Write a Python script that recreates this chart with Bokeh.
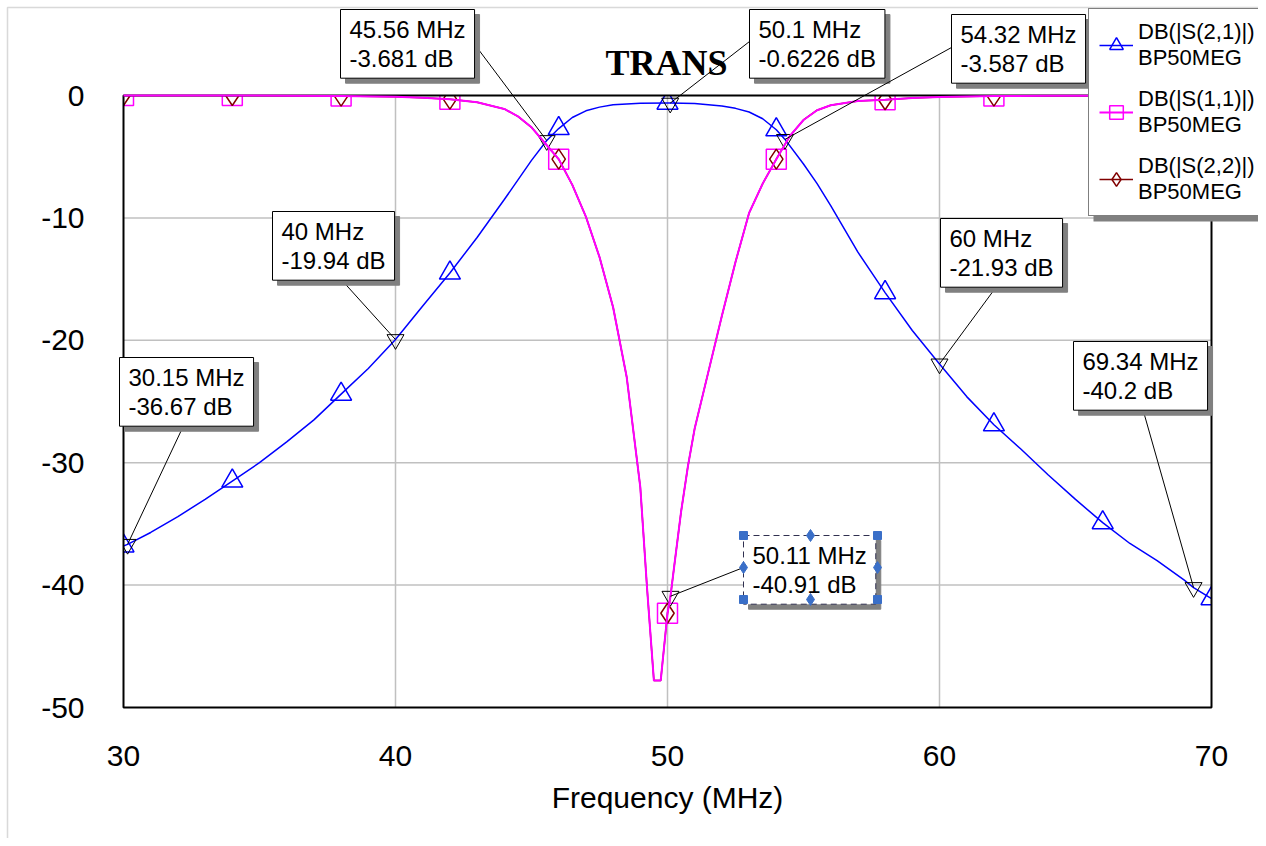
import numpy as np
from bokeh.plotting import figure
from bokeh.models import (Range1d, FixedTicker, Label, Arrow, BoxAnnotation, LinearAxis,
                          Legend, LegendItem, ColumnDataSource)
from bokeh.embed import file_html
from bokeh.resources import INLINE

# ---------------- data ----------------
freq_s21 = [30, 30.15, 31, 32, 33, 34, 35, 36, 37, 38, 39, 40, 41, 42, 43, 44, 45,
            45.56, 46, 46.5, 47, 47.5, 48, 49, 50, 50.1, 51, 52, 52.5, 53, 53.5, 54,
            54.32, 55, 55.5, 56, 57, 58, 59, 60, 61, 62, 63, 64, 65, 66, 67, 68, 69,
            69.34, 70]
s21_db = [-36.8, -36.67, -35.7, -34.4, -33.0, -31.5, -30.0, -28.3, -26.5, -24.4,
          -22.3, -19.94, -17.2, -14.5, -11.6, -8.5, -5.3, -3.681, -2.7, -1.8, -1.25,
          -0.95, -0.75, -0.64, -0.62, -0.6226, -0.66, -0.85, -1.05, -1.35, -1.9, -2.8,
          -3.587, -5.6, -7.2, -9.0, -12.8, -16.1, -19.2, -21.93, -24.6, -26.9, -28.9,
          -31.0, -33.0, -34.9, -36.6, -38.0, -39.6, -40.2, -41.1]

freq_s11 = [30, 32, 34, 36, 38, 40, 41, 42, 43, 44, 44.5, 45, 45.5, 46, 46.5, 47,
            47.5, 48, 48.5, 49, 49.25, 49.5, 49.75, 50, 50.11, 50.25, 50.5, 50.75, 51,
            51.5, 52, 52.5, 53, 53.5, 54, 54.5, 55, 55.5, 56, 57, 58, 59, 60, 62, 64,
            66, 68, 70]
s11_db = [0.0, 0.0, 0.0, -0.02, -0.05, -0.1, -0.18, -0.3, -0.55, -1.1, -1.7, -2.6,
          -3.9, -5.2, -7.3, -9.9, -13.2, -17.3, -23.0, -32.0, -40.3, -47.8, -47.8,
          -42.3, -40.91, -38.4, -34.0, -30.3, -27.2, -22.6, -18.0, -13.6, -9.6, -7.2,
          -5.2, -3.3, -2.0, -1.2, -0.8, -0.45, -0.35, -0.2, -0.12, -0.05, -0.03,
          -0.02, -0.01, 0.0]
# S22 reads identical to S11 (symmetric filter)
freq_s22 = list(freq_s11)
s22_db = list(s11_db)

symbol_freq = [30, 34, 38, 42, 46, 50, 54, 58, 62, 66, 70]

marker_freq = [30.15, 40, 45.56, 50.1, 54.32, 60, 69.34, 50.11]
marker_db = [-36.67, -19.94, -3.681, -0.6226, -3.587, -21.93, -40.2, -40.91]

x_ticks = [30, 40, 50, 60, 70]
y_ticks = [-50, -40, -30, -20, -10, 0]

legend_labels = ["DB(|S(2,1)|)\nBP50MEG", "DB(|S(1,1)|)\nBP50MEG", "DB(|S(2,2)|)\nBP50MEG"]

# ---------------- layout (canvas pixels) ----------------
W, H = 1258, 838
PX_L, PX_R, PX_T, PX_B = 123, 1211, 95, 707     # plot area
X0, X1, Y0, Y1 = 30, 70, -50, 0
SX = (PX_R - PX_L) / (X1 - X0)
SY = (PX_B - PX_T) / (Y1 - Y0)


def fx(px):
    return X0 + (px - PX_L) / SX


def fy(py):
    return Y1 - (py - PX_T) / SY


# callout boxes: top-left corner and leader start (canvas px)
box_tl = [(119, 357), (272, 211), (340, 9), (749, 9), (951, 14), (940, 218), (1073, 341), (743, 535)]
lead_start = [(185, 421), (338, 276), (475, 45), (749, 41), (951, 47), (999, 282), (1141, 404), (743, 567)]
BOX_W, BOX_H = 134, 64

FONT = "Liberation Sans"
BLUE, MAG, DRED, SHADOW = "#0000ff", "#ff00ff", "#800000", "#808080"

xr = Range1d(fx(0), fx(W))
yr = Range1d(fy(H), fy(0))
p = figure(width=W, height=H, x_range=xr, y_range=yr,
           output_backend="svg", toolbar_location=None,
           x_axis_location=None, y_axis_location=None,
           min_border=0, min_border_left=0, min_border_right=0,
           min_border_top=0, min_border_bottom=0)
p.background_fill_color = "white"
p.border_fill_color = "white"
p.outline_line_color = None
p.grid.visible = False

xaxis = LinearAxis(fixed_location=Y0, bounds=(X0, X1))
yaxis = LinearAxis(fixed_location=X0, bounds=(Y0, Y1))
p.add_layout(xaxis, "below")
p.add_layout(yaxis, "left")
for ax, ticks in ((xaxis, x_ticks), (yaxis, y_ticks)):
    ax.ticker = FixedTicker(ticks=ticks)
    ax.major_label_overrides = {t: str(t) for t in ticks}
    ax.axis_line_color = None
    ax.major_tick_line_color = None
    ax.minor_tick_line_color = None
    ax.major_label_text_font = FONT
    ax.major_label_text_font_size = "30px"
    ax.major_label_text_color = "black"
yaxis.major_label_standoff = 33
xaxis.major_label_standoff = 32
xaxis.axis_label = "Frequency (MHz)"
xaxis.axis_label_text_font = FONT
xaxis.axis_label_text_font_size = "30px"
xaxis.axis_label_text_font_style = "normal"
xaxis.axis_label_text_color = "black"
xaxis.axis_label_standoff = 12

# grid lines inside the plot area
inner_x = [t for t in x_ticks if X0 < t < X1]
inner_y = [t for t in y_ticks if Y0 < t < Y1]
p.segment(x0=inner_x, y0=[Y0] * len(inner_x), x1=inner_x, y1=[Y1] * len(inner_x),
          line_color="#c0c0c0", line_width=1.5)
p.segment(x0=[X0] * len(inner_y), y0=inner_y, x1=[X1] * len(inner_y), y1=inner_y,
          line_color="#c0c0c0", line_width=1.5)

src21 = ColumnDataSource(dict(f=freq_s21, db=s21_db))
src11 = ColumnDataSource(dict(f=freq_s11, db=s11_db))
src22 = ColumnDataSource(dict(f=freq_s22, db=s22_db))


def symbols(freqs, dbs):
    idx = [freqs.index(f) for f in symbol_freq]
    return ColumnDataSource(dict(f=[freqs[i] for i in idx], db=[dbs[i] for i in idx]))


l21 = p.line("f", "db", source=src21, line_color=BLUE, line_width=1.5)
l22 = p.line("f", "db", source=src22, line_color=DRED, line_width=1.5)
m11 = p.scatter("f", "db", source=symbols(freq_s11, s11_db), marker="square", size=20,
                fill_color=None, line_color=MAG, line_width=1.5)
m22 = p.scatter("f", "db", source=symbols(freq_s22, s22_db), marker="diamond",
                size=20, fill_color=None, line_color=DRED, line_width=1.5)
m21 = p.scatter("f", "db", source=symbols(freq_s21, s21_db), marker="triangle", size=21,
                fill_color=None, line_color=BLUE, line_width=1.5)
# marker glyphs (inverted triangles)
p.scatter(marker_freq, marker_db, marker="inverted_triangle", size=17,
          fill_color=None, line_color="black", line_width=1)

# white masks: clip the traces to the plot area
p.quad(left=[xr.start, xr.start, X1], right=[xr.end, X0, xr.end],
       bottom=[Y1, yr.start, yr.start], top=[yr.end, yr.end, yr.end],
       fill_color="white", line_color=None)
# plot-area border
p.quad(left=[X0], right=[X1], bottom=[Y0], top=[Y1], fill_color=None,
       line_color="black", line_width=2)
l11 = p.line("f", "db", source=src11, line_color=MAG, line_width=2)

# outer frame of the graph window
p.add_layout(BoxAnnotation(left=7, right=3000, top=7, bottom=3000,
                           left_units="canvas", right_units="canvas",
                           top_units="canvas", bottom_units="canvas",
                           fill_alpha=0, line_color=SHADOW, line_width=1.5))

# callouts
for i, (f, db) in enumerate(zip(marker_freq, marker_db)):
    txt = f"{f:g} MHz\n{db:g} dB"
    bx, by = box_tl[i]
    sx, sy = lead_start[i]
    p.add_layout(Arrow(end=None, x_start=fx(sx), y_start=fy(sy), x_end=f, y_end=db,
                       line_color="black", line_width=1))
    common = dict(x=fx(bx), y=fy(by), text=txt, anchor="top_left",
                  text_font=FONT, text_font_size="24px", text_line_height=1.1,
                  padding=dict(left=9, right=9, top=6, bottom=6))
    p.add_layout(Label(x_offset=5, y_offset=-5, text_color=SHADOW,
                       background_fill_color=SHADOW, border_line_color=SHADOW,
                       **common))
    sel = i == len(marker_freq) - 1
    p.add_layout(Label(text_color="black", background_fill_color="white",
                       border_line_color="#303050" if sel else "black",
                       border_line_dash="6 4" if sel else "solid",
                       border_line_width=1, **common))

# selection handles of the active callout
bx, by = box_tl[-1]
hx = [bx, bx + BOX_W, bx, bx + BOX_W]
hy = [by, by, by + BOX_H, by + BOX_H]
p.scatter([fx(v) for v in hx], [fy(v) for v in hy], marker="square", size=8,
          fill_color="#3a6fc8", line_color="#3a6fc8", level="overlay")
dx = [bx + BOX_W / 2, bx + BOX_W / 2, bx, bx + BOX_W]
dy = [by, by + BOX_H, by + BOX_H / 2, by + BOX_H / 2]
p.scatter([fx(v) for v in dx], [fy(v) for v in dy], marker="diamond", size=12,
          fill_color="#3a6fc8", line_color="#3a6fc8", level="overlay")

# title
p.add_layout(Label(x=fx(666), y=fy(62), text="TRANS", text_font="Liberation Serif",
                   text_font_style="bold", text_font_size="36px", text_color="black",
                   text_align="center", text_baseline="middle"))

# legend with its shadow
rends = [[l21, m21], [l11, m11], [l22, m22]]
LEG_X, LEG_TOP, LEG_BOT = 1088, 10, 216
p.add_layout(BoxAnnotation(left=fx(LEG_X + 5), right=fx(W + 50), top=fy(LEG_TOP + 5),
                           bottom=fy(LEG_BOT + 5), fill_color=SHADOW, fill_alpha=1.0,
                           line_color=None))
items = [LegendItem(label=lab, renderers=r) for lab, r in zip(legend_labels, rends)]
legend = Legend(items=items, location=(LEG_X, H - LEG_BOT),
                label_text_font=FONT, label_text_font_size="22px",
                label_text_line_height=1.25,
                glyph_width=34, glyph_height=40, label_standoff=5, spacing=15,
                padding=10, margin=0, label_width=160,
                border_line_color="black", border_line_width=1,
                background_fill_color="white", background_fill_alpha=1.0,
                label_text_color="black")
p.add_layout(legend)

open("out.html", "w").write(file_html(p, INLINE))
